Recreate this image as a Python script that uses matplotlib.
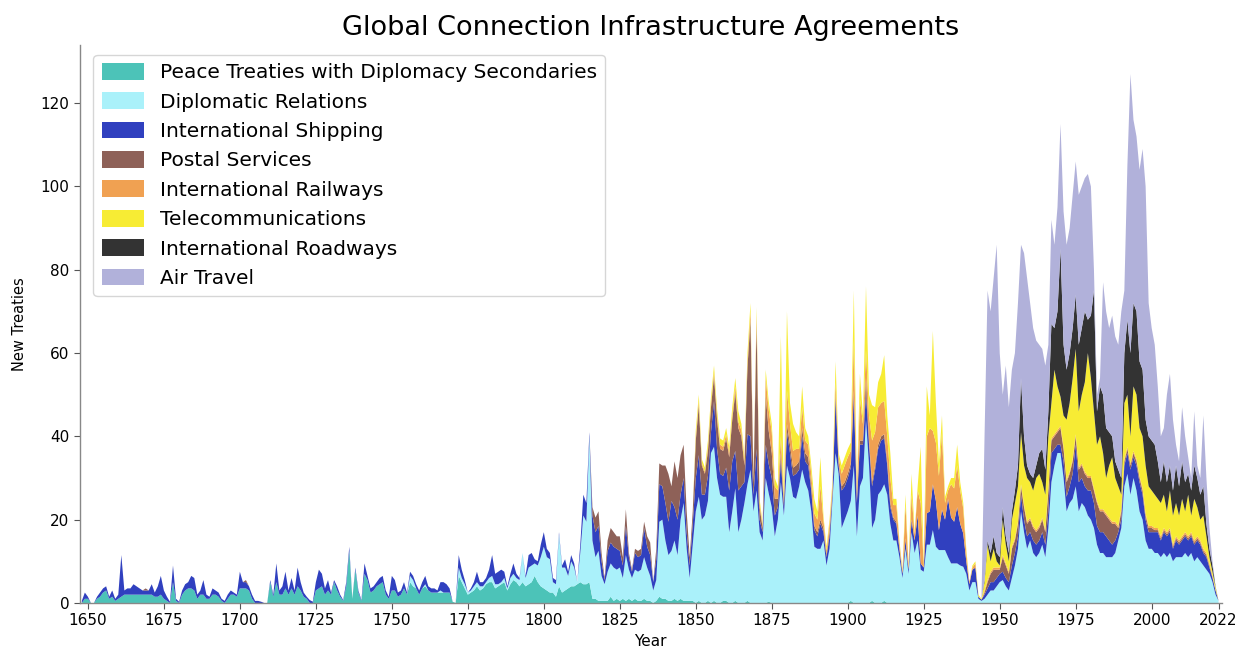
import numpy as np
import matplotlib
matplotlib.use("Agg")
import matplotlib.pyplot as plt

# Yearly counts of new treaties, 1648-2022, one row per decade
first_year = 1648
last_year = 2022

peace = [
    0, 1,
    1, 0, 0, 1, 1.5, 2.5, 3, 1, 1.5, 0.5,
    1, 1.5, 2, 2, 2, 2, 2, 2, 2, 2,
    2, 2, 1.5, 1.5, 2, 1, 0.5, 0, 5, 0.5,
    0, 2, 3, 3.5, 3.5, 3, 1, 2, 2, 1,
    1, 2, 2, 1.5, 0.5, 0, 1, 2, 2, 1.5,
    3.5, 3.5, 3.5, 3, 1, 0, 0, 0, 0, 0,
    5, 1.5, 5, 2, 2, 3.5, 2, 3.5, 2, 4,
    3, 1.5, 1, 0, 0, 3, 3.5, 4, 2, 3,
    2, 5, 3, 1.5, 0.5, 4, 12.5, 1, 8, 2.5,
    0.5, 7, 5.5, 2.5, 3, 4, 4.5, 5, 2, 1,
    3, 3, 1.5, 2, 3.5, 2, 5, 4, 3.5, 2,
    3.5, 4, 3, 2.5, 2.5, 2.5, 2.5, 2.5, 2.5, 2.5,
    0.3, 0, 6.5, 5, 3.5, 2, 2.5, 3, 4, 3,
    3.5, 4.5, 5, 5, 3.5, 4, 4.5, 5, 3, 4.5,
    5.5, 5, 4, 5, 4, 4.5, 5, 6.5, 5, 4,
    3.5, 3, 2.5, 2.5, 1.5, 4, 2.5, 3, 3.5, 4,
    4, 4.5, 5, 4.5, 4.5, 5, 1, 1, 0.5, 0.5,
    0.5, 0.5, 1.5, 0.5, 1, 0.5, 1, 0.5, 1, 0.5,
    1, 0.5, 0.5, 1, 0.5, 0.5, 0, 0.5, 1.5, 1,
    1, 0.5, 0.5, 1, 0.5, 1, 0.5, 0.5, 0.5, 0.5,
    0, 0.5, 0, 0, 0.5, 0, 0.5, 0, 0, 0.5,
    0.5, 0, 0, 0.5, 0, 0, 0, 0.5, 0, 0,
    0, 0, 0, 0, 0.3, 0, 0, 0, 0, 0,
    0, 0, 0, 0, 0, 0, 0, 0, 0, 0,
    0, 0, 0, 0, 0, 0, 0, 0, 0, 0,
    0, 0.5, 0, 0, 0, 0, 0, 0, 0.5, 0,
    0, 0, 0.5, 0, 0, 0, 0, 0, 0, 0,
    0, 0, 0, 0, 0, 0, 0, 0, 0, 0,
    0, 0, 0, 0, 0, 0, 0, 0, 0, 0,
    0, 0, 0, 0, 0, 0, 0, 0, 0, 0,
    0, 0, 0, 0, 0, 0, 0, 0, 0, 0,
    0, 0, 0, 0, 0, 0, 0, 0, 0, 0,
    0, 0, 0, 0, 0, 0, 0, 0, 0, 0,
    0, 0, 0, 0, 0, 0, 0, 0, 0, 0,
    0, 0, 0, 0, 0, 0, 0, 0, 0, 0,
    0, 0, 0, 0, 0, 0, 0, 0, 0, 0,
    0, 0, 0, 0, 0, 0, 0, 0, 0, 0,
    0, 0, 0,
]

diplomatic = [
    0, 0,
    0, 0, 0, 0, 0, 0, 0, 0, 0, 0,
    0, 0, 0, 0, 0, 0, 0, 0, 0, 0,
    0, 0, 0, 0, 0, 0, 0, 0, 0, 0,
    0, 0, 0, 0, 0, 0, 0, 0, 0, 0,
    0, 0, 0, 0, 0, 0, 0, 0, 0, 0,
    0, 0, 0, 0, 0, 0, 0, 0, 0, 0,
    0, 0, 0, 0, 0, 0, 0, 0, 0, 0,
    0, 0, 0, 0, 0, 0, 0, 0, 0, 0,
    0, 0, 0, 0, 0, 0, 0, 0, 0, 0,
    0, 0, 0, 0, 0, 0, 0, 0, 0, 0,
    0, 0, 0, 0, 0, 0, 1.5, 1.5, 0, 0,
    0, 0.5, 0, 0, 0, 0, 0.5, 0, 0, 0,
    0, 0, 2, 1, 1, 0.5, 0.5, 1, 1, 1,
    0.5, 0.5, 1, 1.5, 1, 0.5, 0.5, 1, 0.5, 1.5,
    1.5, 1, 1.5, 7, 2, 4, 4, 3, 4, 7,
    10, 8, 8, 2.5, 3, 12.5, 6, 5.5, 3, 6,
    4.5, 0.5, 7, 16.5, 15, 35, 14, 10, 12, 6,
    4, 7, 8, 8, 7, 8, 5, 11, 7, 5.5,
    7, 7, 7.5, 10, 8, 6, 3, 5, 18, 19,
    14, 11, 12, 14, 11, 19, 23.5, 12.5, 5.5, 13.5,
    22, 25, 20, 21, 24, 36, 37, 30, 26, 25,
    25, 17, 22, 27, 17, 20, 24, 28, 32, 22,
    27, 17, 15, 30, 26, 23, 16, 20, 29, 21,
    33, 30, 25.5, 25, 28, 32, 29, 27, 22, 13.5,
    13, 13, 15, 9, 13, 25, 36, 31, 18, 20,
    22, 24, 33, 16, 28, 30, 44, 33, 17.5, 20,
    26, 27, 28, 26, 19, 15, 15, 11, 6, 13,
    7, 17, 12, 15, 8, 7.5, 14, 14, 17.5, 13.5,
    12.7, 12.7, 12.7, 11, 9.5, 9.5, 9.5, 9, 8.7, 7,
    3, 5, 5, 1, 0.5, 1, 2, 3, 3, 4,
    5, 5.5, 4, 3, 6, 9, 13, 22, 17, 13,
    15, 12, 11, 12, 14, 11, 18, 29, 33, 36,
    36, 30, 22, 24, 25, 28, 22, 24, 23, 21,
    20, 18, 14, 12, 12, 11, 11, 11, 12, 15,
    18, 28, 31, 26, 30, 27, 22, 20, 15, 13,
    13, 12, 12, 11, 12, 11, 12, 10, 11, 11,
    11, 12, 11, 12, 10, 11, 10, 9, 8, 7,
    5, 2, 0.5,
]

shipping = [
    0.5, 1.5,
    0.5, 0, 0, 0.5, 1, 1, 1, 0.5, 1.5, 0.5,
    1, 10, 1, 1.5, 1.5, 2.5, 2, 1.5, 1, 1,
    1, 2.5, 1, 2.5, 4.5, 2, 1, 0.3, 4, 0.5,
    0.3, 1, 1.5, 1.5, 3, 3, 1, 1, 3.5, 1,
    0.5, 1.5, 1, 1, 0.5, 0.5, 1, 1, 0.5, 0.5,
    4, 1.5, 1.5, 1, 1, 0.5, 0.5, 0.3, 0, 0,
    0.5, 0.5, 4.5, 1, 2, 4, 1, 2.5, 1, 4.5,
    2, 1, 0.5, 0.7, 0.3, 2, 4.5, 3, 1.5, 2.5,
    0.5, 0.5, 1, 0.5, 0.2, 1, 1, 0, 0.5, 0.5,
    0.2, 2.5, 1, 1, 1, 1, 1.5, 1.5, 1, 0.5,
    3.5, 2.5, 1, 1, 1.5, 0.5, 1, 1, 1, 1,
    1.5, 2, 1, 1, 1, 0.5, 2, 2.5, 2, 1,
    0, 0, 3, 2, 1, 0, 0.5, 1, 2.5, 1,
    1, 1, 2, 5, 2.5, 3, 3, 1.5, 0.5, 1,
    2.5, 1, 0.5, 0, 0.5, 3, 3, 1, 1, 3,
    3.5, 2, 1.5, 1, 1, 0.5, 0.5, 2, 1, 1.5,
    1, 0, 2, 5, 4.5, 1, 6, 6, 6, 3.5,
    1, 5, 5, 5, 5, 4, 3, 7, 3, 1.5,
    4, 3.5, 3.5, 7, 5, 5, 2, 5, 9, 8,
    9, 8, 12, 8, 8.5, 6, 6, 4, 3, 5,
    8, 10, 6, 5, 6, 5, 11, 7, 5, 5,
    7, 10, 12, 9, 10, 8, 5, 12, 8, 4,
    10, 3, 2, 8, 7, 7, 5, 3, 5, 2,
    8, 6, 5, 6, 4, 8, 5, 6, 5, 4,
    3, 6, 2, 2, 3, 1.5, 13, 2, 9, 8,
    8, 8, 17, 8, 10, 8, 6.5, 5, 10, 12,
    11, 12, 11, 7, 4, 5, 4, 2, 1, 2,
    1, 3, 3, 6, 1.5, 1, 7.5, 8, 11, 11,
    4.8, 9.7, 7.3, 14, 11, 10, 13.5, 10, 8, 3,
    1.5, 3, 3.5, 0.5, 0.3, 1, 1.5, 2, 2, 2,
    2, 2, 2, 2, 3, 3, 3, 4, 3, 3,
    2, 3, 3, 3, 3, 3, 4, 7, 4, 2,
    2, 4, 3.5, 4, 6, 10, 7, 6, 5, 6,
    7, 6, 4.5, 5, 5, 5, 4, 3, 3, 2,
    2, 5, 5, 6, 5, 6, 7, 6, 5, 4,
    4, 5, 5, 4, 5, 5, 5, 3, 4, 3,
    4, 4, 4, 4, 4, 4, 4, 3, 3, 1.5,
    1, 1, 0,
]

postal = [
    0, 0,
    0, 0, 0, 0, 0, 0, 0, 0, 0, 0,
    0, 0, 0, 0, 0, 0, 0, 0, 0, 0.5,
    0, 0, 0, 0, 0, 0, 0, 0, 0, 0,
    0, 0, 0, 0, 0, 0, 0, 0, 0, 0,
    0, 0, 0, 0, 0, 0, 0, 0, 0, 0,
    0, 0, 0.5, 0, 0, 0, 0, 0, 0, 0,
    0, 0, 0, 0, 0, 0, 0, 0, 0, 0,
    0, 0, 0, 0, 0, 0, 0, 0, 0, 0,
    0, 0, 0, 0, 0, 0, 0, 0, 0, 0,
    0, 0, 0, 0, 0, 0, 0, 0, 0, 0,
    0, 0, 0, 0, 0, 0, 0, 0, 0, 0,
    0, 0, 0, 0, 0, 0, 0, 0, 0, 0,
    0, 0, 0, 0, 0, 0, 0, 0, 0, 0,
    0, 0, 0, 0, 0, 0, 0, 0, 0, 0,
    0, 0, 0, 0, 0, 0, 0, 0, 0, 0,
    0, 0, 0, 0, 0, 0, 0, 0, 0, 0,
    0, 0, 0, 0, 0, 0, 2, 3.5, 3.5, 2,
    0.5, 2.5, 3.5, 3.5, 3, 3.5, 2, 4, 1, 0.5,
    1, 1.5, 1.5, 1.5, 2.5, 3, 0, 2.5, 5, 5,
    9, 11.5, 3.5, 11, 10, 9.5, 8, 5, 2, 3,
    9, 12, 7, 5, 6, 6, 6, 7, 6, 6,
    7, 8, 10, 14, 15, 12, 4, 16, 28, 3,
    30, 3, 1, 12, 8, 6, 4, 2, 2, 1,
    2, 2, 2, 2, 2, 2, 2, 2, 1, 1,
    1, 1, 1, 0.5, 1, 0.5, 1, 0.5, 1, 1,
    1, 1, 1, 0.5, 1, 1, 3.5, 1, 1, 1,
    1, 1, 1, 1, 1, 0.5, 0.5, 0, 0, 0.5,
    0, 0, 0, 0, 0, 0, 0, 0, 0, 0,
    0, 0, 0, 0, 0, 0, 0, 0, 0, 0,
    0, 0, 0, 0, 0, 0.5, 1.5, 2, 3, 2,
    1, 3.5, 3, 2, 4, 3, 3, 2, 3, 3,
    3, 3, 3, 3, 3, 3, 5, 3, 3, 3,
    4, 3, 3.5, 3, 3, 2, 3, 3, 3, 3,
    3, 3, 5.5, 5, 5, 5, 5, 5, 4, 1,
    2, 1, 1, 1, 1, 1, 1, 1, 1, 1,
    1, 0.5, 0.5, 0.5, 0.5, 0.5, 0.5, 0.5, 0.5, 0.5,
    0.5, 0.5, 0.5, 0.5, 0.5, 0.5, 0.5, 0.5, 0.5, 0.5,
    0.2, 0.1, 0,
]

railways = [
    0, 0,
    0, 0, 0, 0, 0, 0, 0, 0, 0, 0,
    0, 0, 0, 0, 0, 0, 0, 0, 0, 0,
    0, 0, 0, 0, 0, 0, 0, 0, 0, 0,
    0, 0, 0, 0, 0, 0, 0, 0, 0, 0,
    0, 0, 0, 0, 0, 0, 0, 0, 0, 0,
    0, 0, 0, 0, 0, 0, 0, 0, 0, 0,
    0, 0, 0, 0, 0, 0, 0, 0, 0, 0,
    0, 0, 0, 0, 0, 0, 0, 0, 0, 0,
    0, 0, 0, 0, 0, 0, 0, 0, 0, 0,
    0, 0, 0, 0, 0, 0, 0, 0, 0, 0,
    0, 0, 0, 0, 0, 0, 0, 0, 0, 0,
    0, 0, 0, 0, 0, 0, 0, 0, 0, 0,
    0, 0, 0, 0, 0, 0, 0, 0, 0, 0,
    0, 0, 0, 0, 0, 0, 0, 0, 0, 0,
    0, 0, 0, 0, 0, 0, 0, 0, 0, 0,
    0, 0, 0, 0, 0, 0, 0, 0, 0, 0,
    0, 0, 0, 0, 0, 0, 0, 0, 0, 0,
    0, 0, 0, 0, 0, 0, 0, 0, 0, 0,
    0, 0, 0, 0, 0, 0, 0, 0, 0, 0,
    0, 0, 0, 0, 0, 0, 0, 0, 0, 0,
    1, 1, 0.5, 0.5, 1, 1, 1, 1, 1, 1,
    1, 1, 1, 1.5, 1.5, 1.5, 1, 1.5, 2, 0.5,
    2, 1, 0.5, 4, 5, 5, 3, 2, 4, 1,
    8, 5, 4, 4, 3, 5, 3, 3, 3, 3,
    3, 8, 2, 1, 2, 1.5, 3, 1.5, 3, 4,
    4, 3, 12, 2, 10, 4, 6.7, 6, 10, 8,
    9, 8, 8, 6, 6, 3, 4, 1.5, 0.5, 8,
    0.5, 6, 1.5, 6, 14.5, 0.5, 18.5, 20, 12.8, 14,
    13, 18.4, 4, 2, 8, 8, 10, 8, 6, 2,
    0.5, 0.5, 1, 0, 0, 0.5, 0.5, 0.5, 0.5, 0.5,
    0.5, 0.5, 0.5, 0.5, 0.5, 0.5, 0.5, 0.5, 0.5, 0.5,
    0.5, 0.5, 0.5, 0.5, 0.5, 0.5, 0.5, 0.5, 0.5, 0.5,
    0.5, 0.5, 0.5, 0.5, 0.5, 0.5, 0.5, 0.5, 0.5, 0.5,
    0.5, 0.5, 0.5, 0.5, 0.5, 0.5, 0.5, 0.5, 0.5, 0.5,
    0.5, 0.5, 0.5, 0.5, 0.5, 0.5, 0.5, 0.5, 0.5, 0.5,
    0.5, 0.5, 0.5, 0.5, 0.5, 0.5, 0.5, 0.5, 0.5, 0.5,
    0.5, 0.5, 0.5, 0.5, 0.5, 0.5, 0.5, 0.5, 0.5, 0.5,
    0.3, 0.1, 0,
]

telecom = [
    0, 0,
    0, 0, 0, 0, 0, 0, 0, 0, 0, 0,
    0, 0, 0, 0, 0, 0, 0, 0, 0, 0,
    0, 0, 0, 0, 0, 0, 0, 0, 0, 0,
    0, 0, 0, 0, 0, 0, 0, 0, 0, 0,
    0, 0, 0, 0, 0, 0, 0, 0, 0, 0,
    0, 0, 0, 0, 0, 0, 0, 0, 0, 0,
    0, 0, 0, 0, 0, 0, 0, 0, 0, 0,
    0, 0, 0, 0, 0, 0, 0, 0, 0, 0,
    0, 0, 0, 0, 0, 0, 0, 0, 0, 0,
    0, 0, 0, 0, 0, 0, 0, 0, 0, 0,
    0, 0, 0, 0, 0, 0, 0, 0, 0, 0,
    0, 0, 0, 0, 0, 0, 0, 0, 0, 0,
    0, 0, 0, 0, 0, 0, 0, 0, 0, 0,
    0, 0, 0, 0, 0, 0, 0, 0, 0, 0,
    0, 0, 0, 0, 0, 0, 0, 0, 0, 0,
    0, 0, 0, 0, 0, 0, 0, 0, 0, 0,
    0, 0, 0, 0, 0, 0, 0, 0, 0, 0,
    0, 0, 0, 0, 0, 0, 0, 0, 0, 0,
    0, 0, 0, 0, 0, 0, 0, 0, 0, 0,
    0, 0, 0, 0, 0, 0, 0, 0, 0, 0,
    1.5, 1.5, 1, 1, 1.5, 1.5, 1.5, 1.5, 1.5, 1.5,
    1.5, 1.5, 2, 2, 2.5, 1.5, 1, 2, 2, 0.5,
    2, 1, 0.5, 2, 2, 2, 2, 1, 24, 1,
    19, 5, 6.5, 4, 3, 5, 3, 2, 2, 3.5,
    2, 7, 1, 1, 1, 1, 5, 1, 2, 2,
    2, 2, 12, 1.5, 6, 2, 15.3, 5, 8.5, 6,
    6, 7, 11, 5, 6, 1.5, 1.5, 0.5, 0.5, 2.5,
    0.5, 5, 0.5, 1, 13.5, 0.5, 12, 3, 24, 9.5,
    3, 4.2, 1.5, 1, 1.5, 2.5, 5, 2, 1.3, 1,
    0, 0.5, 0.5, 0.5, 0.2, 2, 8.5, 2.5, 4.5, 1.5,
    0.5, 8.5, 4.5, 2.5, 6.5, 8.5, 8.5, 12.5, 9.5, 10.5,
    8.5, 8.5, 12.5, 12.5, 8.5, 8.5, 12.5, 8.5, 15.5, 10.5,
    7, 7.5, 14.5, 16.5, 19.5, 20.5, 13.5, 16.5, 21.5, 29.5,
    23.5, 18.5, 13.5, 17.5, 13.5, 8.5, 12.5, 15.5, 10.5, 9.5,
    3.5, 13.5, 12.5, 6.5, 15.5, 15.5, 11.5, 12.5, 11.5, 9.5,
    8.5, 8, 7, 8, 8, 5, 9, 7, 8, 6,
    9, 5, 10, 4, 10, 7, 5, 8, 4, 1.5,
    1, 0.6, 0,
]

roadways = [
    0, 0,
    0, 0, 0, 0, 0, 0, 0, 0, 0, 0,
    0, 0, 0, 0, 0, 0, 0, 0, 0, 0,
    0, 0, 0, 0, 0, 0, 0, 0, 0, 0,
    0, 0, 0, 0, 0, 0, 0, 0, 0, 0,
    0, 0, 0, 0, 0, 0, 0, 0, 0, 0,
    0, 0, 0, 0, 0, 0, 0, 0, 0, 0,
    0, 0, 0, 0, 0, 0, 0, 0, 0, 0,
    0, 0, 0, 0, 0, 0, 0, 0, 0, 0,
    0, 0, 0, 0, 0, 0, 0, 0, 0, 0,
    0, 0, 0, 0, 0, 0, 0, 0, 0, 0,
    0, 0, 0, 0, 0, 0, 0, 0, 0, 0,
    0, 0, 0, 0, 0, 0, 0, 0, 0, 0,
    0, 0, 0, 0, 0, 0, 0, 0, 0, 0,
    0, 0, 0, 0, 0, 0, 0, 0, 0, 0,
    0, 0, 0, 0, 0, 0, 0, 0, 0, 0,
    0, 0, 0, 0, 0, 0, 0, 0, 0, 0,
    0, 0, 0, 0, 0, 0, 0, 0, 0, 0,
    0, 0, 0, 0, 0, 0, 0, 0, 0, 0,
    0, 0, 0, 0, 0, 0, 0, 0, 0, 0,
    0, 0, 0, 0, 0, 0, 0, 0, 0, 0,
    0, 0, 0, 0, 0, 0, 0, 0, 0, 0,
    0, 0, 0, 0, 0, 0, 0, 0, 0, 0,
    0, 0, 0, 0, 0, 0, 0, 0, 0, 0,
    0, 0, 0, 0, 0, 0, 0, 0, 0, 0,
    0, 0, 0, 0, 0, 0, 0, 0, 0, 0,
    0, 0, 0, 0, 0, 0, 0, 0, 0, 0,
    0, 0, 0, 0, 0, 0, 0, 0, 0, 0,
    0, 0, 0, 0, 0, 0, 0, 0, 0, 0,
    0, 0, 0, 0, 0, 0, 0, 0, 0, 0,
    0, 0, 0, 0, 0, 0.5, 1, 2, 3, 2,
    2, 3, 2, 2, 2, 3, 5, 13, 7, 3,
    2, 3, 3, 5, 8, 6, 6, 19, 10, 18,
    35.5, 17, 12, 12, 12, 13, 16, 16, 17, 8,
    15, 29, 8, 12, 14, 12, 8, 5, 4, 4,
    4, 12, 18, 20, 20, 20, 16, 16, 11, 12,
    12, 12, 9, 5, 8, 7, 6, 6, 9, 7,
    9, 7, 5, 6, 8, 7, 6, 7, 3, 2,
    1.5, 0.2, 0,
]

air = [
    0, 0,
    0, 0, 0, 0, 0, 0, 0, 0, 0, 0,
    0, 0, 0, 0, 0, 0, 0, 0, 0, 0,
    0, 0, 0, 0, 0, 0, 0, 0, 0, 0,
    0, 0, 0, 0, 0, 0, 0, 0, 0, 0,
    0, 0, 0, 0, 0, 0, 0, 0, 0, 0,
    0, 0, 0, 0, 0, 0, 0, 0, 0, 0,
    0, 0, 0, 0, 0, 0, 0, 0, 0, 0,
    0, 0, 0, 0, 0, 0, 0, 0, 0, 0,
    0, 0, 0, 0, 0, 0, 0, 0, 0, 0,
    0, 0, 0, 0, 0, 0, 0, 0, 0, 0,
    0, 0, 0, 0, 0, 0, 0, 0, 0, 0,
    0, 0, 0, 0, 0, 0, 0, 0, 0, 0,
    0, 0, 0, 0, 0, 0, 0, 0, 0, 0,
    0, 0, 0, 0, 0, 0, 0, 0, 0, 0,
    0, 0, 0, 0, 0, 0, 0, 0, 0, 0,
    0, 0, 0, 0, 0, 0, 0, 0, 0, 0,
    0, 0, 0, 0, 0, 0, 0, 0, 0, 0,
    0, 0, 0, 0, 0, 0, 0, 0, 0, 0,
    0, 0, 0, 0, 0, 0, 0, 0, 0, 0,
    0, 0, 0, 0, 0, 0, 0, 0, 0, 0,
    0, 0, 0, 0, 0, 0, 0, 0, 0, 0,
    0, 0, 0, 0, 0, 0, 0, 0, 0, 0,
    0, 0, 0, 0, 0, 0, 0, 0, 0, 0,
    0, 0, 0, 0, 0, 0, 0, 0, 0, 0,
    0, 0, 0, 0, 0, 0, 0, 0, 0, 0,
    0, 0, 0, 0, 0, 0, 0, 0, 0, 0,
    0, 0, 0, 0, 0, 0, 0, 0, 0, 0,
    0, 0, 0, 0, 0, 0, 0, 0, 0, 0,
    0, 0, 0, 0, 0, 0, 0, 0, 0, 0,
    0, 0, 0, 0, 0, 34.5, 60, 58, 62, 74,
    49, 27, 41, 35, 34, 33, 39, 32, 44, 45,
    41, 36, 30, 26, 24, 25, 16, 25, 20, 25,
    30, 32, 30, 30, 32, 32, 36, 34, 32, 35,
    31, 5, 4, 2, 27, 28, 25, 29, 30, 30,
    40, 15, 37, 67, 44, 42, 46, 53, 56, 32,
    27, 24, 18, 11, 8, 21, 22, 17, 5, 6,
    13, 11, 4, 3, 13, 3, 4, 17, 11, 5,
    1, 0, 0,
]

labels = [
    "Peace Treaties with Diplomacy Secondaries",
    "Diplomatic Relations",
    "International Shipping",
    "Postal Services",
    "International Railways",
    "Telecommunications",
    "International Roadways",
    "Air Travel",
]
colors = [
    "#4cc3b8",
    "#aaf1fa",
    "#3040bf",
    "#8e6158",
    "#f0a152",
    "#f7ec34",
    "#333333",
    "#b1b1da",
]

years = np.arange(first_year, last_year + 1)
series = [peace, diplomatic, shipping, postal, railways, telecom, roadways, air]
for s in series:
    assert len(s) == len(years), len(s)

fig = plt.figure(figsize=(12.44, 6.52), dpi=100)
ax = fig.add_axes([0.0643, 0.0752, 0.9177, 0.856])

ax.stackplot(years, *series, labels=labels, colors=colors, linewidth=0)

ax.set_xlim(1647.4, 2023)
ax.set_ylim(0, 134)
ax.set_xticks([1650, 1675, 1700, 1725, 1750, 1775, 1800, 1825, 1850,
               1875, 1900, 1925, 1950, 1975, 2000, 2022])
ax.set_yticks([0, 20, 40, 60, 80, 100, 120])
ax.tick_params(axis="both", labelsize=11, color="#555555", length=4)

for side in ("top", "right"):
    ax.spines[side].set_visible(False)
for side in ("left", "bottom"):
    ax.spines[side].set_color("#888888")
    ax.spines[side].set_linewidth(1.0)

ax.set_xlabel("Year", fontsize=11, labelpad=4)
ax.set_ylabel("New Treaties", fontsize=10.5, labelpad=10)
ax.set_title("Global Connection Infrastructure Agreements", fontsize=19.5, pad=7)

leg = ax.legend(loc="upper left", fontsize=14.5, handlelength=2.1,
                handleheight=0.9, labelspacing=0.5, borderpad=0.4,
                handletextpad=0.8, bbox_to_anchor=(0.003, 1.0), frameon=True)
leg.get_frame().set_edgecolor("#cccccc")

fig.savefig("out.png", dpi=100)
